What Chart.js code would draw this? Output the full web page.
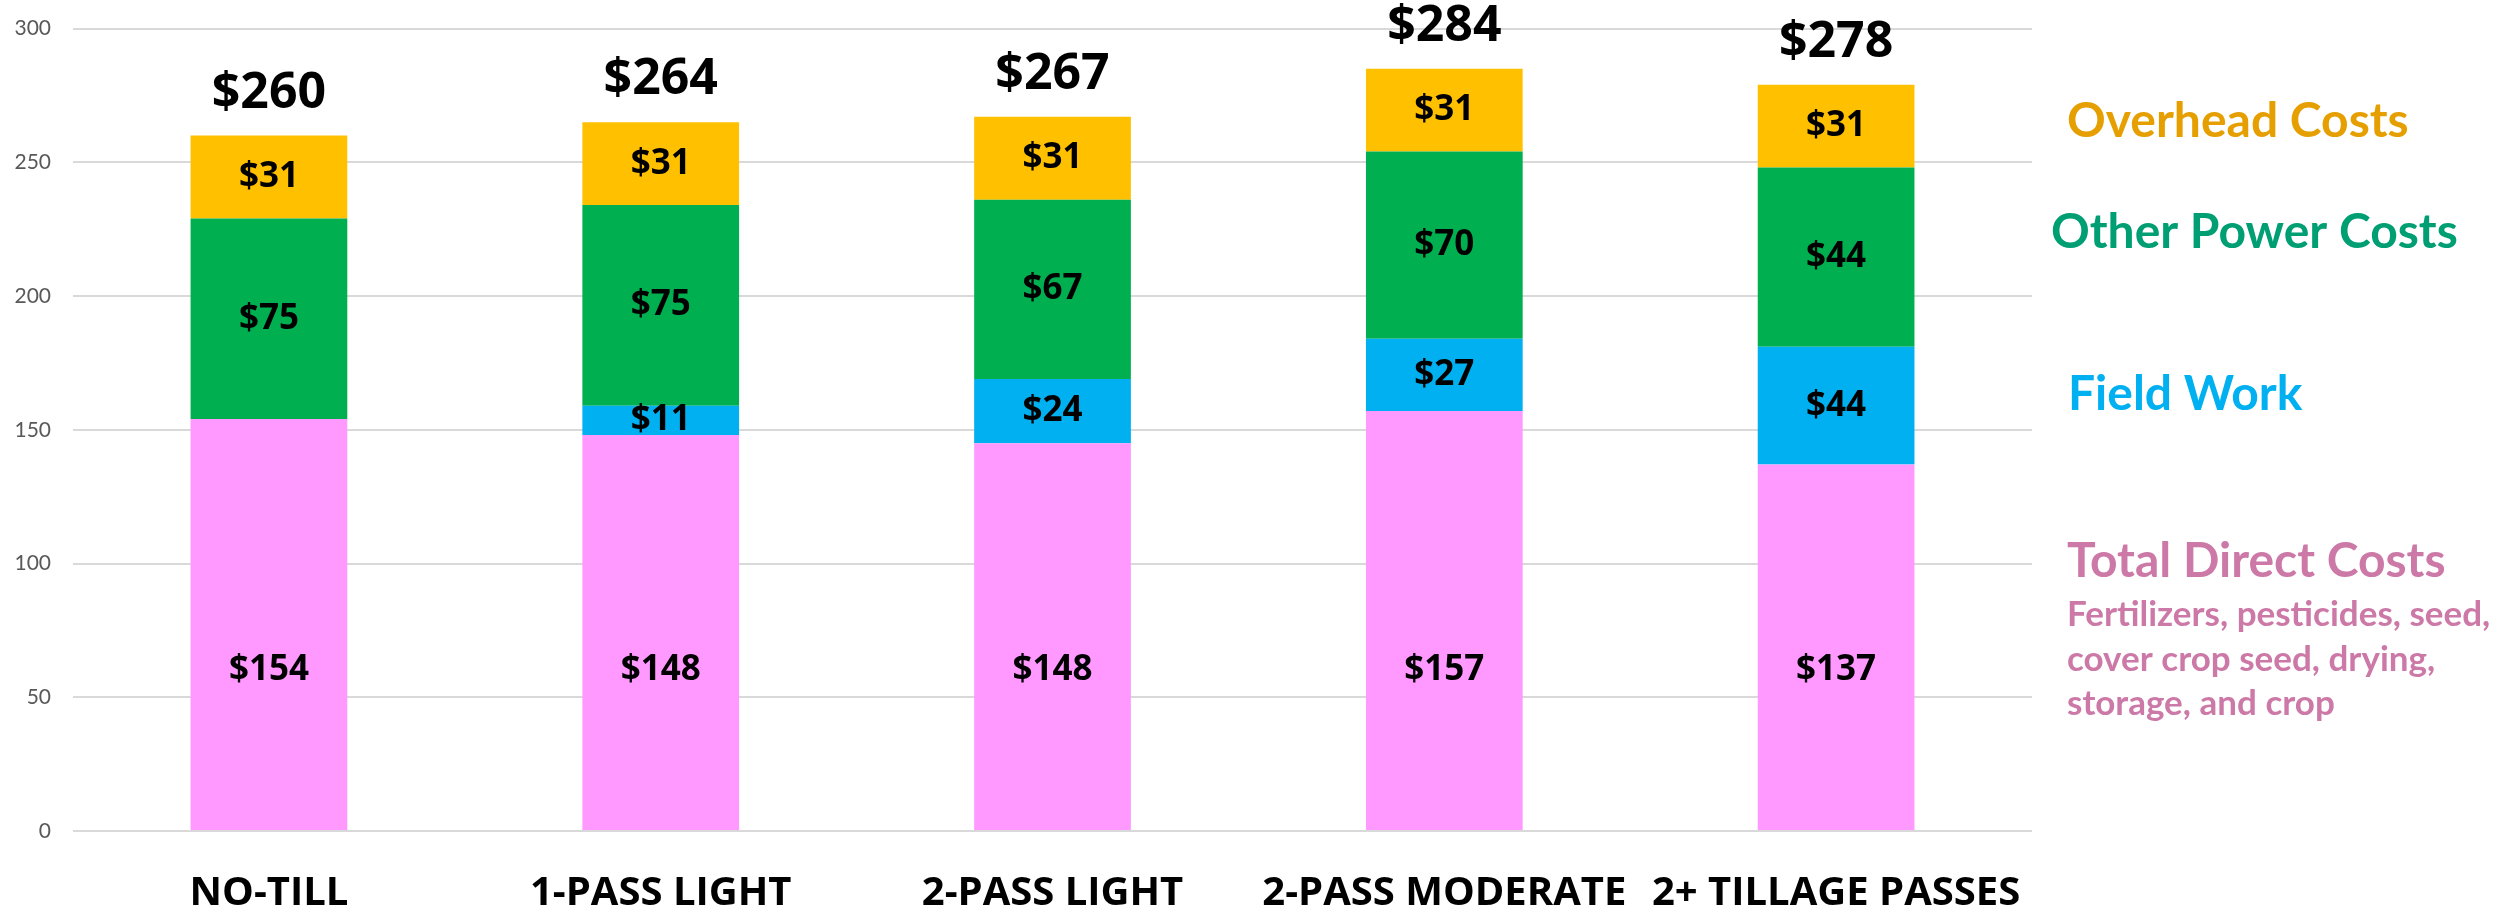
<!DOCTYPE html>
<html>
<head>
<meta charset="utf-8">
<script src="https://cdn.jsdelivr.net/npm/chart.js@4.4.1/dist/chart.umd.min.js"></script>
<style>
    html, body { margin: 0; padding: 0; background: #fff; }
    #wrap { position: relative; width: 2514px; height: 913px; }
</style>
</head>
<body>
<div id="wrap"><canvas id="costChart"></canvas></div>
<script>
const categories = ['NO-TILL', '1-PASS LIGHT', '2-PASS LIGHT', '2-PASS MODERATE', '2+ TILLAGE PASSES'];

// segment heights as they are drawn in the picture
const directCosts = [154, 148, 145, 157, 137];
const fieldWork = [0, 11, 24, 27, 44];
const otherPower = [75, 75, 67, 70, 67];
const overhead = [31, 31, 31, 31, 31];

// printed labels (not always the same as the bar heights)
const directLabels = ['$154', '$148', '$148', '$157', '$137'];
const fieldLabels = ['', '$11', '$24', '$27', '$44'];
const powerLabels = ['$75', '$75', '$67', '$70', '$44'];
const overheadLabels = ['$31', '$31', '$31', '$31', '$31'];
const totalLabels = ['$260', '$264', '$267', '$284', '$278'];

const yMin = 0;
const yMax = 300;
const yStep = 50;

const sideTitles = ['Overhead Costs', 'Other Power Costs', 'Field Work', 'Total Direct Costs'];
const directNote = ['Fertilizers, pesticides, seed,', 'cover crop seed, drying,', 'storage, and crop'];

const boldFamily = '"Open Sans", sans-serif';
const segLabels = [directLabels, fieldLabels, powerLabels, overheadLabels];

const barLabels = {
    id: 'barLabels',
    afterDatasetsDraw(chart) {
        const ctx = chart.ctx;
        const yScale = chart.scales.y;
        ctx.save();
        ctx.fillStyle = '#000';
        ctx.textAlign = 'center';
        ctx.textBaseline = 'middle';
        ctx.font = 'bold 35px ' + boldFamily;
        segLabels.forEach((labels, di) => {
            const meta = chart.getDatasetMeta(di);
            meta.data.forEach((bar, i) => {
                if (!labels[i]) return;
                let y = (bar.y + bar.base) / 2;
                if (di === 0) y = yScale.getPixelForValue(60);
                ctx.fillText(labels[i], bar.x, y);
            });
        });

        ctx.font = 'bold 50px ' + boldFamily;
        ctx.textBaseline = 'alphabetic';
        chart.getDatasetMeta(3).data.forEach((bar, i) => {
            ctx.fillText(totalLabels[i], bar.x, bar.y - 28);
        });
        ctx.restore();
    }
};

const sideNotes = {
    id: 'sideNotes',
    afterDraw(chart) {
        const ctx = chart.ctx;
        const x0 = chart.chartArea.right;
        ctx.save();
        ctx.textAlign = 'left';
        ctx.textBaseline = 'alphabetic';
        ctx.font = 'bold 48px Lato, sans-serif';
        ctx.fillStyle = '#E69F00';
        ctx.fillText(sideTitles[0], x0 + 35, 137);
        ctx.fillStyle = '#009E73';
        ctx.fillText(sideTitles[1], x0 + 19, 248);
        ctx.fillStyle = '#00B0F0';
        ctx.fillText(sideTitles[2], x0 + 36, 410);
        ctx.fillStyle = '#CC79A7';
        ctx.fillText(sideTitles[3], x0 + 35, 577);
        ctx.font = 'bold 35px Lato, sans-serif';
        directNote.forEach((line, i) => {
            ctx.fillText(line, x0 + 35, 626 + i * 44.5);
        });
        ctx.restore();
    }
};

function main() {
    const ctx = document.getElementById('costChart').getContext('2d');
    new Chart(ctx, {
        type: 'bar',
        data: {
            labels: categories,
            datasets: [
                { label: 'Total Direct Costs', data: directCosts, backgroundColor: '#FF99FF' },
                { label: 'Field Work', data: fieldWork, backgroundColor: '#00B0F0' },
                { label: 'Other Power Costs', data: otherPower, backgroundColor: '#00B050' },
                { label: 'Overhead Costs', data: overhead, backgroundColor: '#FFC000' }
            ]
        },
        options: {
            responsive: true,
            maintainAspectRatio: false,
            animation: false,
            datasets: {
                bar: {
                    barPercentage: 0.4,
                    categoryPercentage: 1.0,
                    borderWidth: 0
                }
            },
            layout: {
                padding: { top: 28.5, right: 482, bottom: -44, left: -7.5 }
            },
            plugins: {
                legend: { display: false },
                tooltip: { enabled: false }
            },
            scales: {
                x: {
                    stacked: true,
                    grid: { display: false, drawTicks: false },
                    border: { display: false },
                    ticks: {
                        color: '#000',
                        padding: 43,
                        maxRotation: 0,
                        minRotation: 0,
                        autoSkip: false,
                        font: { family: boldFamily, size: 40, weight: 'bold', lineHeight: 1 }
                    }
                },
                y: {
                    stacked: true,
                    min: yMin,
                    max: yMax,
                    grid: { color: '#D9D9D9', lineWidth: 2, drawTicks: false },
                    border: { display: false },
                    ticks: {
                        stepSize: yStep,
                        color: '#595959',
                        padding: 22,
                        font: { family: 'Lato', size: 21, lineHeight: 0.5 }
                    }
                }
            }
        },
        plugins: [barLabels, sideNotes]
    });
}

main();
</script>
</body>
</html>
